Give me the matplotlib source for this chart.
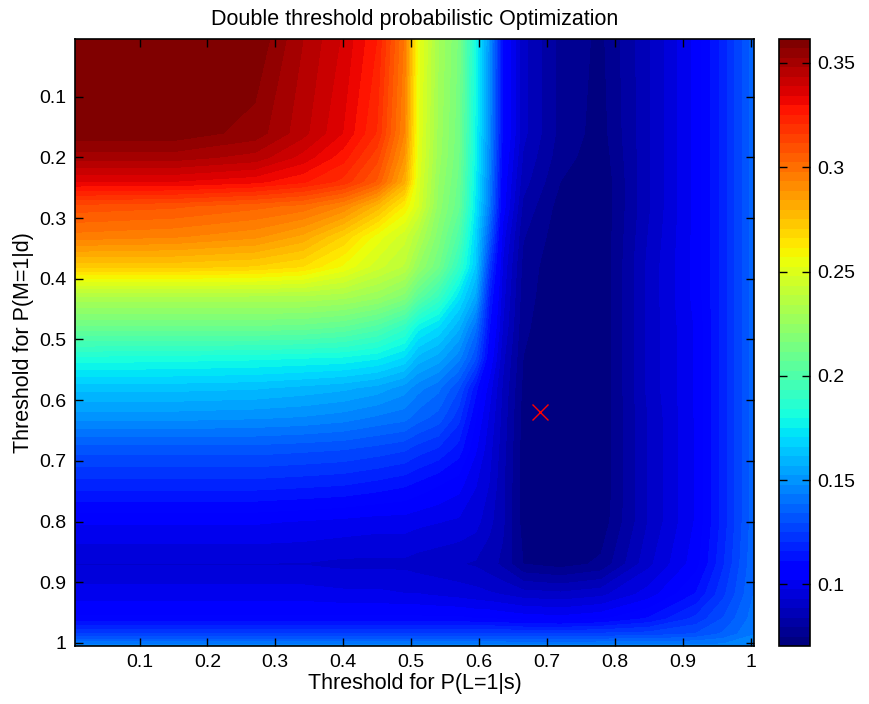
import matplotlib
matplotlib.use('Agg')
import matplotlib.pyplot as plt
import numpy as np
from matplotlib.colors import Normalize
from matplotlib.cm import ScalarMappable

# error of the double threshold classifier
# grid nodes (threshold values) at which the error was read
thr_L = [0.005, 0.15, 0.27, 0.34, 0.40, 0.45, 0.49, 0.51, 0.54, 0.57,
         0.595, 0.615, 0.635, 0.665, 0.72, 0.78, 0.85, 0.92, 0.96, 1.005]
thr_M = [0.005, 0.16, 0.20, 0.24, 0.28, 0.33, 0.38, 0.43, 0.48, 0.53,
         0.58, 0.63, 0.68, 0.74, 0.80, 0.87, 0.92, 0.96, 0.985, 1.005]

# one row per thr_M value, one column per thr_L value
err = [
    [.361, .361, .361, .348, .338, .325, .297, .255, .230, .215, .180, .150, .110, .090, .078, .074, .088, .104, .118, .137],  # 0.005
    [.360, .360, .355, .345, .334, .320, .293, .253, .228, .213, .178, .148, .110, .090, .078, .073, .088, .104, .118, .137],  # 0.16
    [.350, .350, .346, .337, .327, .313, .288, .252, .227, .212, .177, .147, .108, .088, .077, .072, .088, .104, .118, .137],  # 0.20
    [.334, .334, .331, .326, .319, .306, .281, .250, .225, .210, .175, .145, .106, .086, .075, .071, .088, .104, .118, .137],  # 0.24
    [.310, .308, .304, .301, .293, .278, .261, .248, .223, .208, .173, .143, .105, .083, .073, .071, .088, .104, .118, .137],  # 0.28
    [.296, .294, .290, .283, .270, .255, .245, .235, .218, .200, .168, .135, .100, .080, .072, .071, .089, .104, .118, .137],  # 0.33
    [.272, .272, .270, .266, .256, .245, .238, .225, .212, .190, .165, .125, .097, .078, .071, .071, .090, .104, .118, .137],  # 0.38
    [.233, .233, .233, .233, .231, .226, .218, .205, .192, .172, .155, .117, .095, .077, .071, .071, .090, .104, .118, .137],  # 0.43
    [.210, .210, .210, .209, .206, .200, .190, .177, .170, .158, .140, .112, .093, .076, .071, .071, .090, .103, .118, .137],  # 0.48
    [.183, .182, .181, .180, .179, .176, .170, .160, .155, .145, .130, .107, .090, .075, .071, .071, .090, .103, .118, .137],  # 0.53
    [.163, .163, .162, .160, .158, .155, .150, .145, .140, .130, .113, .100, .088, .074, .070, .071, .090, .103, .118, .137],  # 0.58
    [.149, .149, .148, .147, .145, .142, .140, .136, .132, .122, .107, .097, .087, .073, .070, .071, .089, .103, .118, .137],  # 0.63
    [.132, .132, .132, .131, .130, .128, .126, .123, .120, .114, .103, .095, .086, .073, .070, .071, .089, .103, .118, .137],  # 0.68
    [.118, .118, .118, .117, .116, .114, .112, .110, .107, .104, .098, .093, .085, .073, .070, .071, .089, .103, .118, .137],  # 0.74
    [.103, .103, .103, .102, .101, .100, .100, .099, .098, .097, .095, .090, .085, .073, .071, .072, .089, .103, .118, .137],  # 0.80
    [.093, .093, .093, .093, .092, .092, .092, .091, .090, .089, .088, .086, .083, .075, .073, .076, .092, .105, .120, .138],  # 0.87
    [.100, .100, .100, .100, .099, .099, .098, .098, .097, .096, .095, .094, .093, .091, .090, .092, .100, .112, .124, .139],  # 0.92
    [.108, .108, .108, .108, .108, .108, .108, .108, .108, .108, .107, .107, .106, .105, .104, .106, .112, .122, .130, .141],  # 0.96
    [.126, .126, .126, .126, .126, .126, .126, .126, .126, .126, .126, .126, .126, .125, .125, .126, .127, .130, .135, .143],  # 0.985
    [.145, .145, .145, .145, .145, .145, .145, .145, .145, .145, .145, .145, .145, .145, .145, .145, .145, .145, .145, .146],  # 1.005
]

# optimum found by the search
best_L = [0.69]
best_M = [0.62]

tick_vals = [0.1, 0.2, 0.3, 0.4, 0.5, 0.6, 0.7, 0.8, 0.9, 1.0]
tick_labels = ['0.1', '0.2', '0.3', '0.4', '0.5', '0.6', '0.7', '0.8', '0.9', '1']
cbar_ticks = [0.1, 0.15, 0.2, 0.25, 0.3, 0.35]
c_min, c_max = 0.0705, 0.3615

plt.rcParams['font.family'] = ['Liberation Sans', 'DejaVu Sans']
plt.rcParams['font.size'] = 14

W, H = 869, 704
fig = plt.figure(figsize=(W / 100, H / 100), dpi=100)
ax = fig.add_axes([75 / W, 1 - 646 / H, (754 - 75) / W, (646 - 39) / H])
cax = fig.add_axes([779 / W, 1 - 646 / H, 31 / W, (646 - 39) / H])

# matlab style jet with 64 colours
jet = plt.get_cmap('jet', 64)
jet64 = jet.with_extremes(under=jet(0), over=jet(63))
levels = np.linspace(c_min, c_max, 65)
cs = ax.contourf(thr_L, thr_M, err, levels=levels, cmap=jet64, extend='both', antialiased=False)

ax.plot(best_L, best_M, 'x', color='red', markersize=11, markeredgewidth=1.0)

ax.set_xlim(0.005, 1.005)
ax.set_ylim(1.005, 0.005)
ax.set_xticks(tick_vals)
ax.set_xticklabels(tick_labels)
ax.set_yticks(tick_vals)
ax.set_yticklabels(tick_labels)
ax.tick_params(direction='in', top=True, right=True, length=6, width=1, pad=6)
for s in ax.spines.values():
    s.set_linewidth(1.2)

ax.set_xlabel('Threshold for P(L=1|s)', fontsize=15.5, labelpad=1)
ax.set_ylabel('Threshold for P(M=1|d)', fontsize=15.5, labelpad=4)
ax.set_title('Double threshold probabilistic Optimization', pad=10, fontsize=15.5)

cb = fig.colorbar(ScalarMappable(norm=Normalize(c_min, c_max), cmap=jet64), cax=cax, ticks=cbar_ticks)
cb.ax.set_yticklabels(['0.1', '0.15', '0.2', '0.25', '0.3', '0.35'])
cax.tick_params(direction='in', left=True, right=True, length=6, width=1, pad=5)
cb.outline.set_linewidth(1.2)

fig.savefig('out.png', dpi=100)
